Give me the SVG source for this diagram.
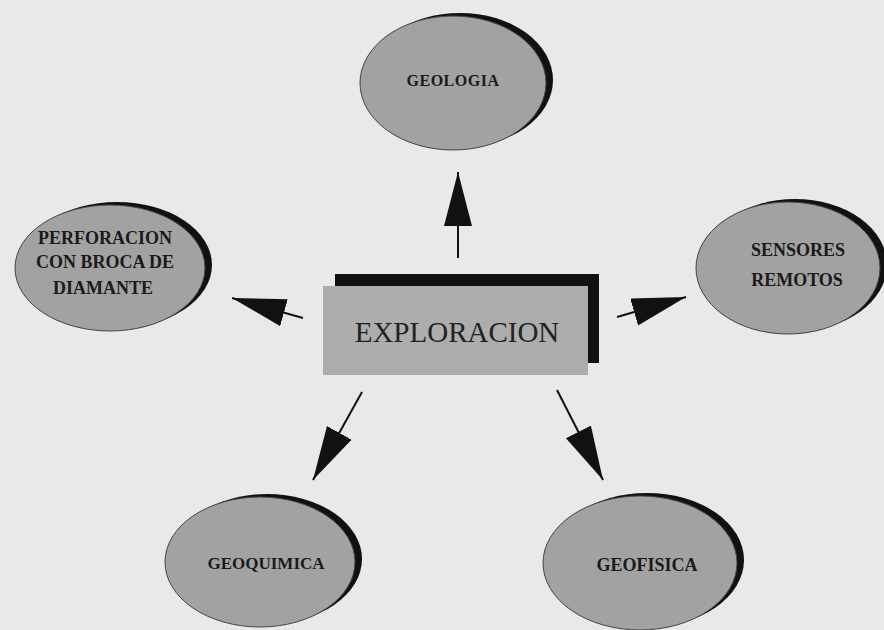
<svg xmlns="http://www.w3.org/2000/svg" width="884" height="630" viewBox="0 0 884 630">
<style>
.bg{fill:#e9e9e9}
.sh{fill:#111}
.el{fill:#a2a2a2;stroke:#444;stroke-width:1}
.box{fill:#adadad}
.t{font-family:"Liberation Serif","Times New Roman",serif;font-weight:bold;fill:#1a1a1a;text-anchor:middle}
.tm{font-family:"Liberation Serif","Times New Roman",serif;fill:#222;text-anchor:middle;font-size:29px}
.c{stroke:#111;stroke-width:2;fill:none;marker-end:url(#ah)}
</style>
<defs>
<marker id="ah" markerUnits="userSpaceOnUse" markerWidth="56" markerHeight="30" refX="54" refY="14" orient="auto">
<path d="M0,0 L54,14 L0,28 z" fill="#111"/>
</marker>
</defs>
<rect class="bg" x="0" y="0" width="884" height="630"/>
<g id="connectors">
<line class="c" x1="458" y1="258" x2="458" y2="172"/>
<line class="c" x1="303" y1="318" x2="232" y2="298"/>
<line class="c" x1="617" y1="317" x2="686" y2="297"/>
<line class="c" x1="362" y1="392" x2="313" y2="480"/>
<line class="c" x1="557" y1="390" x2="603" y2="480"/>
</g>
<g id="exploracion">
<rect class="sh" x="335" y="274" width="264" height="89"/>
<rect class="box" x="323" y="286" width="265" height="89"/>
<text class="tm" x="457" y="342">EXPLORACION</text>
</g>
<g id="geologia">
<ellipse class="sh" cx="460" cy="80" rx="93" ry="67"/>
<ellipse class="el" cx="453" cy="83" rx="93" ry="67"/>
<text class="t" x="453" y="86" font-size="16" letter-spacing="0.5">GEOLOGIA</text>
</g>
<g id="perforacion">
<ellipse class="sh" cx="117" cy="265" rx="95" ry="63"/>
<ellipse class="el" cx="110" cy="268" rx="95" ry="63"/>
<text class="t" x="105" y="244" font-size="18">PERFORACION</text>
<text class="t" x="105" y="268" font-size="18">CON BROCA DE</text>
<text class="t" x="103" y="294" font-size="18">DIAMANTE</text>
</g>
<g id="sensores">
<ellipse class="sh" cx="795" cy="265" rx="92" ry="66"/>
<ellipse class="el" cx="788" cy="268" rx="92" ry="66"/>
<text class="t" x="798" y="256" font-size="18">SENSORES</text>
<text class="t" x="797" y="286" font-size="18">REMOTOS</text>
</g>
<g id="geoquimica">
<ellipse class="sh" cx="267" cy="559" rx="95" ry="65"/>
<ellipse class="el" cx="260" cy="562" rx="95" ry="65"/>
<text class="t" x="266" y="569" font-size="17">GEOQUIMICA</text>
</g>
<g id="geofisica">
<ellipse class="sh" cx="647" cy="560" rx="97" ry="67"/>
<ellipse class="el" cx="640" cy="563" rx="97" ry="67"/>
<text class="t" x="647" y="571" font-size="18">GEOFISICA</text>
</g>
</svg>
